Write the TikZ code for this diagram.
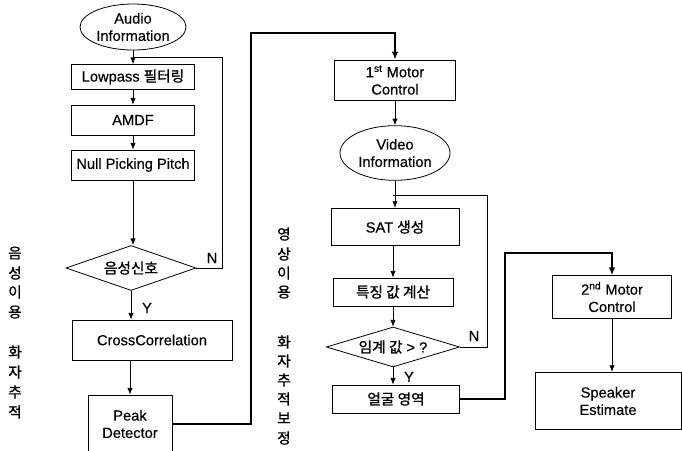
\documentclass[tikz,border=0pt]{standalone}
\usepackage{fontspec}
\setmainfont{Liberation Sans}[FakeBold=0.4]
\newfontfamily\kr{Noto Sans CJK KR}[FakeBold=1.2]
\usetikzlibrary{shapes.geometric,arrows.meta}

\tikzset{
  procbox/.style={rectangle, draw, line width=0.6pt, inner sep=1pt, align=center},
  infoell/.style={ellipse, draw, line width=0.6pt, inner sep=0pt, align=center},
  decide/.style={diamond, draw, line width=0.6pt, inner sep=0pt, aspect=3},
  flow/.style={-{Latex[length=5pt,width=4pt]}, line width=0.6pt},
  bigflow/.style={-{Latex[length=6pt,width=5pt]}, line width=2pt},
  vlabel/.style={font={\kr\fontsize{11}{11}\selectfont}, inner sep=0pt},
}

\begin{document}
\begin{tikzpicture}[x=0.75pt, y=-0.75pt, font=\fontsize{11}{13}\selectfont]
  \useasboundingbox (0,0) rectangle (682,450);

  % Left side: audio tracking
  \node[infoell, minimum width=79.5pt, minimum height=34.5pt] (audio) at (133,27) {Audio\\Information};
  \node[procbox, minimum width=92pt, minimum height=18.75pt] (lowpass) at (133,77) {Lowpass {\kr 필터링}};
  \node[procbox, minimum width=92pt, minimum height=22.5pt] (amdf) at (133,120) {AMDF};
  \node[procbox, minimum width=92pt, minimum height=22.5pt] (nullpick) at (133,165) {Null Picking Pitch};
  \node[decide, minimum width=97.5pt, minimum height=33.75pt] (voiced) at (131,268) {\kr 음성신호};
  \node[procbox, minimum width=120pt, minimum height=30pt] (xcorr) at (152,340) {CrossCorrelation};
  \node[procbox, minimum width=63pt, minimum height=43.5pt] (peak) at (130,424) {Peak\\Detector};

  \coordinate (audjoin) at (133,57);
  \draw[flow] (audio) -- (lowpass);
  \draw[flow] (lowpass) -- (amdf);
  \draw[flow] (amdf) -- (nullpick);
  \draw[flow] (nullpick.south) -- (nullpick.south |- voiced.north);
  \draw[flow] (voiced.south) -- (voiced.south |- xcorr.north);
  \draw[flow] (peak.north |- xcorr.south) -- (peak.north);
  \draw[line width=0.6pt] (voiced.east) -- ++(26,0) |- (audjoin);

  \node (voiced-n) at (212,258) {N};
  \node (voiced-y) at (147,308) {Y};

  \foreach \ch/\yy [count=\i] in {음/253,성/273,이/292,용/312,화/352,자/372,추/392,적/412}
    \node[vlabel] (audlab-\i) at (15,\yy) {\ch};

  % Middle: video tracking
  \node[procbox, minimum width=91pt, minimum height=30pt] (motor1) at (395,80) {1\textsuperscript{st} Motor\\Control};
  \node[infoell, minimum width=82.5pt, minimum height=41pt] (video) at (395,153) {Video\\Information};
  \node[procbox, minimum width=96pt, minimum height=28pt] (sat) at (395,227) {SAT {\kr 생성}};
  \node[procbox, minimum width=90pt, minimum height=21pt] (feature) at (393,292) {\kr 특징 값 계산};
  \node[decide, minimum width=100pt, minimum height=30pt] (thresh) at (393,347) {{\kr 임계 값} \textgreater\ ?};
  \node[procbox, minimum width=95pt, minimum height=21pt] (face) at (396,399) {\kr 얼굴 영역};

  \coordinate (thickturn) at (251,33);
  \draw[bigflow] (peak.east) -| (thickturn) -| (motor1.north);

  \coordinate (vidjoin) at (393,195);
  \draw[flow] (motor1) -- (video);
  \draw[flow] (video.south) -- (video.south |- sat.north);
  \draw[flow] (sat.south -| feature.north) -- (feature.north);
  \draw[flow] (feature) -- (thresh);
  \draw[flow] (thresh.south) -- (thresh.south |- face.north);
  \draw[line width=0.6pt] (thresh.east) -- ++(27,0) |- (vidjoin);

  \node (thresh-n) at (474,336) {N};
  \node (thresh-y) at (409,377) {Y};

  \foreach \ch/\yy [count=\i] in {영/234,상/254,이/273,용/292,화/342,자/361,추/380,적/399,보/418,정/438}
    \node[vlabel] (vidlab-\i) at (284,\yy) {\ch};

  % Right side: speaker estimate
  \node[procbox, minimum width=89pt, minimum height=32pt] (motor2) at (612,297) {2\textsuperscript{nd} Motor\\Control};
  \node[procbox, minimum width=109.5pt, minimum height=43pt] (speaker) at (608,401) {Speaker\\Estimate};

  \coordinate (thickturn2) at (505,253);
  \draw[bigflow] (face.east) -| (thickturn2) -| (motor2.north);
  \draw[flow] (motor2.south) -- (motor2.south |- speaker.north);
\end{tikzpicture}
\end{document}
